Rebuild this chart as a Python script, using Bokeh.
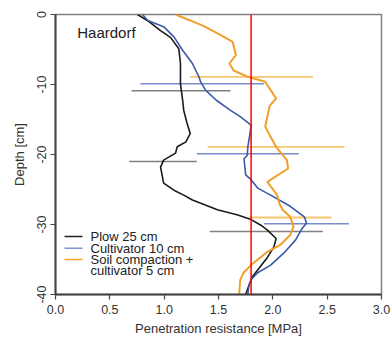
import numpy as np
from bokeh.plotting import figure
from bokeh.models import Range1d, FixedTicker, PrintfTickFormatter, Span, Label
from bokeh.embed import file_html
from bokeh.resources import INLINE

# ---------------- data ----------------
plow_depth = [0, -0.85, -2.3, -3.3, -4.9, -7, -9.9, -12.25, -13.7, -15.5, -17, -18.2, -18.9,
              -19.8, -20.8, -21.8, -24.1, -25.1, -25.8, -26.5, -27.9, -28.6, -29.3, -30.1,
              -30.8, -32, -33.2, -34.7, -36.1, -37.5, -38.7, -40]
plow_pr = [0.755, 0.845, 0.967, 1.06, 1.135, 1.15, 1.15, 1.17, 1.18, 1.21, 1.24, 1.2, 1.12,
           1.105, 0.995, 0.967, 0.995, 1.09, 1.18, 1.26, 1.49, 1.67, 1.8, 1.89,
           1.95, 2.03, 2.01, 1.95, 1.88, 1.81, 1.78, 1.75]

cult_depth = [0, -0.85, -1.8, -3.2, -5.1, -7, -8.9, -9.6, -10.8, -12.25, -13.7, -14.6, -15.8,
              -17, -18.9, -20.1, -20.6, -22.9, -23.6, -24.8, -25.8, -27.4, -28.9, -29.8,
              -30.8, -32.2, -34.1, -35.8, -36.9, -37.9, -38.8, -40]
cult_pr = [0.8, 0.85, 1.0, 1.09, 1.17, 1.26, 1.32, 1.335, 1.38, 1.48, 1.61, 1.70, 1.8,
           1.79, 1.77, 1.765, 1.735, 1.75, 1.8, 1.86, 1.98, 2.16, 2.29, 2.31,
           2.26, 2.21, 2.1, 1.98, 1.86, 1.8, 1.78, 1.77]

comp_depth = [0, -0.85, -1.7, -3.2, -3.9, -5.8, -7, -8, -8.9, -9.6, -10.8, -12, -13.1, -16,
              -17.2, -18.9, -20.8, -22, -23.9, -25.8, -27, -27.9, -28.9, -30.3, -31.5,
              -32.9, -33.9, -35.8, -36.9, -37.9, -40]
comp_pr = [1.105, 1.24, 1.37, 1.55, 1.63, 1.66, 1.60, 1.64, 1.77, 1.93, 1.98, 2.03, 1.97, 1.93,
           1.97, 2.03, 2.13, 2.14, 1.95, 2.04, 2.06, 2.09, 2.16, 2.19, 2.16,
           2.07, 1.95, 1.8, 1.73, 1.70, 1.69]

# error bars (mean +/- sd) at three depths
plow_err_depth = [-10.9, -21.0, -31.0]
plow_err_mean = [1.155, 0.99, 1.94]
plow_err_sd = [0.455, 0.31, 0.52]

cult_err_depth = [-9.9, -19.9, -29.9]
cult_err_mean = [1.35, 1.77, 2.31]
cult_err_sd = [0.57, 0.47, 0.39]

comp_err_depth = [-8.9, -18.9, -29.0]
comp_err_mean = [1.805, 2.03, 2.16]
comp_err_sd = [0.565, 0.63, 0.38]

threshold = 1.8
x_ticks = [0.0, 0.5, 1.0, 1.5, 2.0, 2.5, 3.0]
y_ticks = [-40, -30, -20, -10, 0]
series_names = ["Plow 25 cm", "Cultivator 10 cm", "Soil compaction +", "cultivator 5 cm"]
site_name = "Haardorf"

# ---------------- figure ----------------
FONT = "Liberation Sans"
p = figure(width=390, height=338, x_range=Range1d(0, 3), y_range=Range1d(-40, 0),
           output_backend="svg", toolbar_location=None,
           min_border_left=55, min_border_right=9, min_border_top=14, min_border_bottom=43,
           margin=(0, 0, 0, 0))
p.grid.visible = False
p.outline_line_color = "#808080"
p.outline_line_width = 1.5
p.background_fill_color = "white"
p.border_fill_color = "white"

for ax in (p.xaxis[0], p.yaxis[0]):
    ax.axis_line_color = "#444444"
    ax.axis_line_width = 2
    ax.major_tick_line_color = "#444444"
    ax.major_tick_line_width = 1.2
    ax.major_tick_out = 5
    ax.major_tick_in = 0
    ax.minor_tick_line_color = None
    ax.major_label_text_font = FONT
    ax.major_label_text_font_size = "12.5px"
    ax.major_label_text_color = "#333333"
    ax.axis_label_text_font = FONT
    ax.axis_label_text_font_size = "13px"
    ax.axis_label_text_font_style = "normal"
    ax.axis_label_text_color = "#333333"
    ax.major_label_standoff = 5

p.xaxis.ticker = FixedTicker(ticks=x_ticks)
p.xaxis.formatter = PrintfTickFormatter(format="%.1f")
p.xaxis.axis_label = "Penetration resistance [MPa]"
p.xaxis.axis_label_standoff = 4

p.yaxis.ticker = FixedTicker(ticks=y_ticks)
p.yaxis.formatter = PrintfTickFormatter(format="%d")
p.yaxis.major_label_orientation = "vertical"
p.yaxis.axis_label = "Depth [cm]"
p.yaxis.axis_label_standoff = 7

# error bars
def errbars(d, m, s, color, width, alpha):
    m = np.array(m); s = np.array(s)
    p.segment(x0=m - s, x1=m + s, y0=d, y1=d, line_color=color, line_width=width, line_alpha=alpha)

errbars(comp_err_depth, comp_err_mean, comp_err_sd, "#f5a623", 1.8, 0.65)
errbars(cult_err_depth, cult_err_mean, cult_err_sd, "#4a68b8", 1.5, 0.75)
errbars(plow_err_depth, plow_err_mean, plow_err_sd, "#555555", 1.5, 0.75)

# curves
p.line(plow_pr, plow_depth, line_color="#1a1a1a", line_width=1.6)
p.line(cult_pr, cult_depth, line_color="#3c5aa8", line_width=1.6)
p.line(comp_pr, comp_depth, line_color="#f0a02a", line_width=2)

# threshold line
p.add_layout(Span(location=threshold, dimension="height", line_color="#ff0000", line_width=1.5))

# site label
p.add_layout(Label(x=0.2, y=-2.5, text=site_name, text_font=FONT, text_font_size="15px",
                   text_baseline="middle", text_color="#222222"))

# legend (manual)
leg_y = [-31.7, -33.4, -35.0, -36.6]
leg_colors = ["#222222", "#7f93d6", "#ffa726"]
for i, c in enumerate(leg_colors):
    p.segment(x0=[0.083], x1=[0.248], y0=[leg_y[i]], y1=[leg_y[i]], line_color=c, line_width=1.5)
for i, t in enumerate(series_names):
    p.add_layout(Label(x=0.322, y=leg_y[i], text=t, text_font=FONT, text_font_size="13px",
                       text_baseline="middle", text_color="#222222"))

open("out.html", "w").write(file_html(p, INLINE))
